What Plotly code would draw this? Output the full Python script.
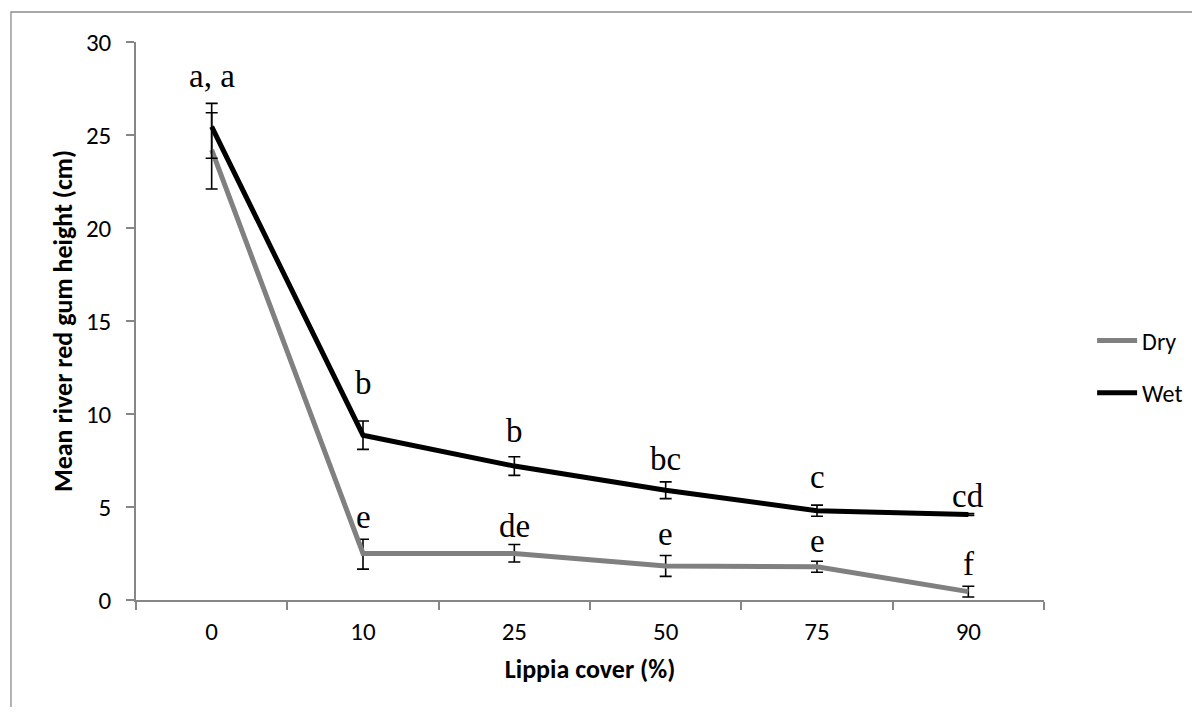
import plotly.graph_objects as go

# ---- data ----
categories = ["0", "10", "25", "50", "75", "90"]

dry_mean = [24.2, 2.5, 2.5, 1.83, 1.79, 0.45]
dry_err_plus = [2.0, 0.77, 0.48, 0.56, 0.29, 0.29]
dry_err_minus = [2.1, 0.84, 0.46, 0.56, 0.30, 0.29]

wet_mean = [25.45, 8.86, 7.2, 5.9, 4.8, 4.6]
wet_err_plus = [1.25, 0.76, 0.5, 0.45, 0.3, 0.05]
wet_err_minus = [1.7, 0.76, 0.5, 0.45, 0.3, 0.05]

wet_letters = ["a, a", "b", "b", "bc", "c", "cd"]
wet_letter_y = [27.6, 11.1, 8.5, 7.0, 6.0, 5.0]
dry_letters = ["", "e", "de", "e", "e", "f"]
dry_letter_y = [None, 3.85, 3.4, 2.96, 2.6, 1.34]

y_ticks = [0, 5, 10, 15, 20, 25, 30]

# ---- figure ----
SANS = "Carlito, Calibri, Lato, sans-serif"
SERIF = "Liberation Serif, Times New Roman, serif"
AXIS_GREY = "#868686"

fig = go.Figure()

fig.add_trace(go.Scatter(
    x=categories, y=dry_mean, name="Dry", mode="lines",
    line=dict(color="#808080", width=5),
    legendgroup="dry",
    error_y=dict(type="data", symmetric=False, array=dry_err_plus,
                 arrayminus=dry_err_minus, color="black", thickness=1.6, width=6),
))
fig.add_trace(go.Scatter(
    x=categories, y=wet_mean, name="Wet", mode="lines",
    line=dict(color="black", width=5),
    legendgroup="wet",
    error_y=dict(type="data", symmetric=False, array=wet_err_plus,
                 arrayminus=wet_err_minus, color="black", thickness=1.6, width=6),
))

annotations = []
for letters, ys in ((wet_letters, wet_letter_y), (dry_letters, dry_letter_y)):
    for i, (txt, yv) in enumerate(zip(letters, ys)):
        if txt and yv is not None:
            annotations.append(dict(x=i, y=yv, xref="x", yref="y", text=txt,
                                    showarrow=False, yanchor="bottom", yshift=-9,
                                    font=dict(family=SERIF, size=33, color="black")))

# outer chart-area border (extends past the right/bottom edges as in the reference)
fig.add_shape(type="rect", xref="paper", yref="paper",
              x0=-0.1377, y0=1.0538, x1=1.3, y1=-0.4,
              line=dict(color="#8c8c8c", width=1.3), fillcolor="rgba(0,0,0,0)",
              layer="below")

# page body has an 8px margin, so the figure is sized/offset to compensate
fig.update_layout(
    width=1184, height=699,
    margin=dict(l=128, r=148, t=34, b=107, autoexpand=False),
    paper_bgcolor="white", plot_bgcolor="white",
    font=dict(family=SANS, size=25, color="black"),
    showlegend=True,
    legend=dict(x=1.053, y=0.4176, xanchor="left", yanchor="middle",
                font=dict(family=SANS, size=24, color="black"),
                tracegroupgap=18, bgcolor="rgba(0,0,0,0)", itemwidth=40),
    annotations=annotations,
    xaxis=dict(
        type="category", range=[-0.5, 5.5],
        showline=True, linecolor=AXIS_GREY, linewidth=1.5,
        ticks="outside", tickson="boundaries", ticklen=8,
        tickcolor=AXIS_GREY, tickwidth=1.5,
        showgrid=False, zeroline=False, ticklabelstandoff=8,
        tickfont=dict(family=SANS, size=25, color="black"),
        title=dict(text="<b>Lippia cover (%)</b>", standoff=14,
                   font=dict(family=SANS, size=26, color="black")),
        automargin=False,
    ),
    yaxis=dict(
        range=[0, 30], tickvals=y_ticks,
        showline=True, linecolor=AXIS_GREY, linewidth=1.5,
        ticks="outside", ticklen=8, tickcolor=AXIS_GREY, tickwidth=1.5,
        showgrid=False, zeroline=False, ticklabelstandoff=10,
        tickfont=dict(family=SANS, size=25, color="black"),
        title=dict(text="<b>Mean river red gum height (cm)</b>", standoff=6,
                   font=dict(family=SANS, size=26, color="black")),
        automargin=False,
    ),
)

fig.write_html("out.html")
